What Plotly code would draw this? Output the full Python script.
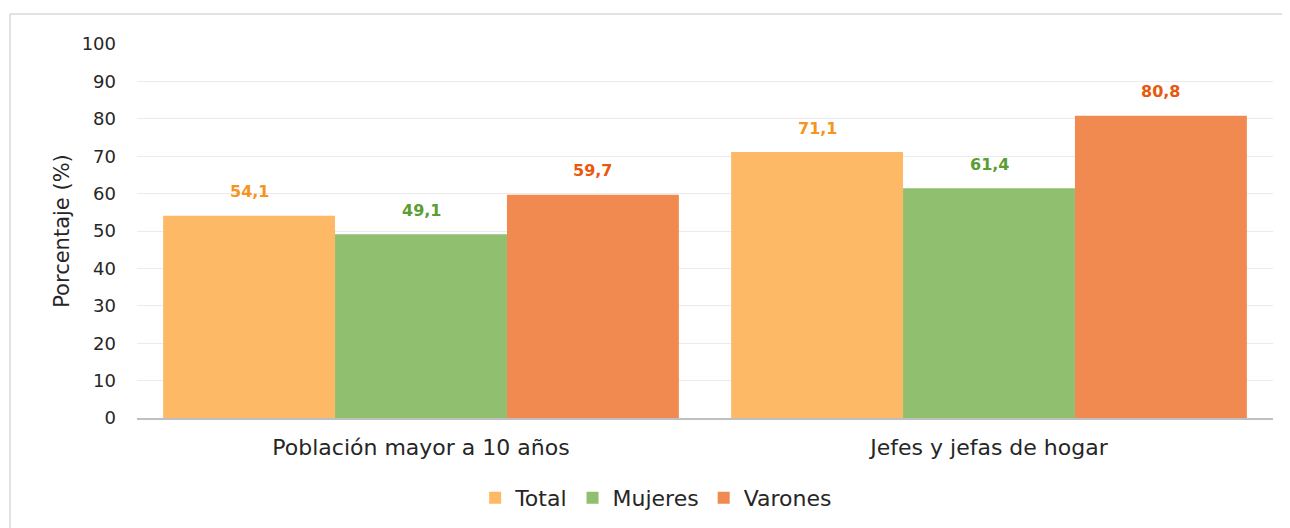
import plotly.graph_objects as go

categories = ["Población mayor a 10 años", "Jefes y jefas de hogar"]
series_names = ["Total", "Mujeres", "Varones"]
total_vals = [54.1, 71.1]
mujeres_vals = [49.1, 61.4]
varones_vals = [59.7, 80.8]
y_ticks = [0, 10, 20, 30, 40, 50, 60, 70, 80, 90, 100]

bar_colors = ["#FDB965", "#8FBF6F", "#F08A50"]
label_colors = ["#F7941D", "#5B9E33", "#E8590C"]
FONT = "DejaVu Sans"

fig = go.Figure()
all_vals = [total_vals, mujeres_vals, varones_vals]
for name, vals, col in zip(series_names, all_vals, bar_colors):
    fig.add_trace(go.Bar(
        x=categories, y=vals, name=name,
        marker=dict(color=col, line=dict(width=0)),
    ))

# page body has an 8px margin; figure geometry compensates
W, H = 1282, 520
L, R, T, B = 129, 17, 36, 110
plot_w = W - L - R
plot_h = H - T - B
cat_w = plot_w / 2
bargap = 0.092
bar_w = cat_w * (1 - bargap) / 3
for i, (vals, lc) in enumerate(zip(all_vals, label_colors)):
    for c, v in zip(categories, vals):
        fig.add_annotation(
            x=c, y=v, xref="x", yref="y",
            text=f"<b>{v:.1f}</b>".replace(".", ","),
            showarrow=False, xshift=(i - 1) * bar_w, yshift=24,
            yanchor="middle",
            font=dict(family=FONT, size=16, color=lc),
        )

# chart border
fig.add_shape(
    type="rect", xref="paper", yref="paper",
    x0=(2 - L) / plot_w, x1=(1320 - L) / plot_w,
    y0=-(560 - (H - B)) / plot_h, y1=((H - B) - 6) / plot_h,
    line=dict(color="#D9D9D9", width=1.5), fillcolor="rgba(0,0,0,0)", layer="below",
)

fig.update_layout(
    width=W, height=H,
    margin=dict(l=L, r=R, t=T, b=B, autoexpand=False),
    barmode="group", bargap=bargap, bargroupgap=0,
    plot_bgcolor="white", paper_bgcolor="white",
    font=dict(family=FONT, size=18, color="#262626"),
    showlegend=True,
    legend=dict(
        orientation="h", x=0.457, xanchor="center", y=-0.214, yanchor="middle",
        font=dict(family=FONT, size=22, color="#262626"),
        itemwidth=30, traceorder="normal",
    ),
    xaxis=dict(
        showgrid=False, showline=True, linecolor="#BFBFBF", linewidth=2,
        ticks="", tickfont=dict(size=22, color="#262626"),
        ticklabelstandoff=9, automargin=False,
    ),
    yaxis=dict(
        range=[0, 100], tickvals=y_ticks, showgrid=True, gridcolor="#EBEBEB", gridwidth=1,
        zeroline=False, showline=False, ticks="", automargin=False,
        tickfont=dict(size=18, color="#262626"), ticklabelstandoff=20,
        title=dict(text="Porcentaje (%)", font=dict(size=21, color="#262626"), standoff=6),
    ),
)

fig.write_html("out.html")
